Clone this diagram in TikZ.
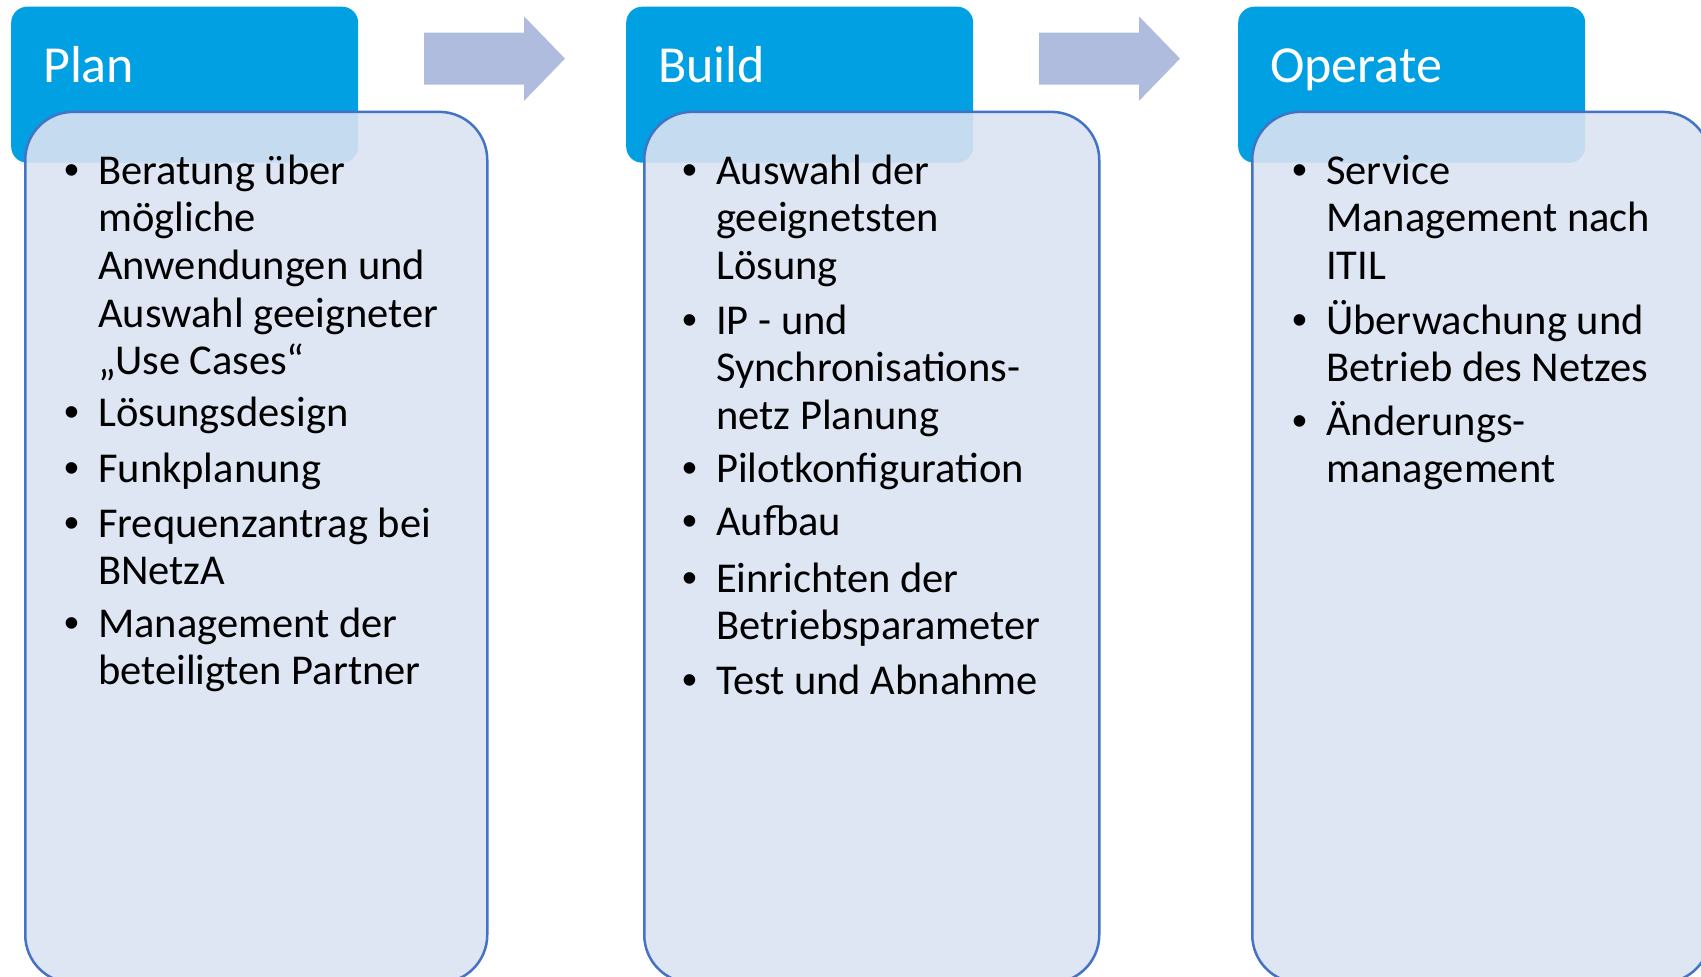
\documentclass[tikz,border=0pt]{standalone}
\usepackage{fontspec}
\setmainfont{Carlito}
\newfontfamily\bulletfont{Liberation Sans}
\definecolor{hdrblue}{RGB}{0,160,227}
\definecolor{panelfill}{RGB}{218,226,242}
\definecolor{panelline}{RGB}{68,114,196}
\definecolor{flowgray}{RGB}{176,188,222}
\newcommand{\bul}{\llap{{\bulletfont •}\hspace{19pt}}}
\begin{document}
\begin{tikzpicture}[x=1pt, y=-1pt,
    phase/.style={fill=hdrblue, rounded corners=16pt, minimum width=347pt,
      minimum height=156pt, anchor=north west, inner sep=0pt},
    phasetitle/.style={anchor=base west, inner sep=0pt, text=white,
      font=\fontsize{52}{62}\selectfont},
    panel/.style={draw=panelline, line width=2.5pt, fill=panelfill,
      fill opacity=0.9, rounded corners=48pt, minimum height=871pt,
      anchor=north west, inner sep=0pt},
    % entries sit on the baseline of their last line
    entry/.style={anchor=base west, align=left, inner sep=0pt,
      font=\fontsize{42.5}{47.7}\selectfont},
    flow/.style={fill=flowgray}]
  \clip (0,0) rectangle (1701,977);
  % phase headers
  \node[phase] (planhdr) at (11,6.5) {};
  \node[phase] (buildhdr) at (626,6.5) {};
  \node[phase] (ophdr) at (1238,6.5) {};
  % panels lie over the headers
  \node[panel, minimum width=462pt] (planbody) at (24,110.6) {};
  \node[panel, minimum width=455pt] (buildbody) at (643,110.6) {};
  \node[panel, minimum width=458pt] (opbody) at (1251,110.6) {};
  \node[phasetitle] (plantitle) at ([shift={(32,76)}]planhdr.north west) {Plan};
  \node[phasetitle] (buildtitle) at ([shift={(32,76)}]buildhdr.north west) {Build};
  \node[phasetitle] (optitle) at ([shift={(32,76)}]ophdr.north west) {Operate};
  % block arrows
  \foreach \ax in {424,1039}
    \fill[flow] (\ax,32.5) -- ++(100,0) -- ++(0,-16.2) -- ++(41,42.3)
      -- ++(-41,42.3) -- ++(0,-16.2) -- ++(-100,0) -- cycle;
  % Plan
  \node[entry] (plan1) at (98,374.8) {\bul Beratung über\\mögliche\\Anwendungen und\\Auswahl geeigneter\\„Use Cases“};
  \node[entry] (plan2) at (98,426) {\bul Lösungsdesign};
  \node[entry] (plan3) at (98,482) {\bul Funkplanung};
  \node[entry] (plan4) at (98,584.7) {\bul Frequenzantrag bei\\BNetzA};
  \node[entry] (plan5) at (98,684.7) {\bul Management der\\beteiligten Partner};
  % Build
  \node[entry] (build1) at (716,279.4) {\bul Auswahl der\\geeignetsten\\Lösung};
  \node[entry] (build2) at (716,429.4) {\bul IP - und\\Synchronisations-\\netz Planung};
  \node[entry] (build3) at (716,482) {\bul Pilotkonfiguration};
  \node[entry] (build4) at (716,535) {\bul Aufbau};
  \node[entry] (build5) at (716,639.7) {\bul Einrichten der\\Betriebsparameter};
  \node[entry] (build6) at (716,694) {\bul Test und Abnahme};
  % Operate
  \node[entry] (op1) at (1326,279.4) {\bul Service\\Management nach\\ITIL};
  \node[entry] (op2) at (1326,381.7) {\bul Überwachung und\\Betrieb des Netzes};
  \node[entry] (op3) at (1326,482.7) {\bul Änderungs-\\management};
\end{tikzpicture}
\end{document}
